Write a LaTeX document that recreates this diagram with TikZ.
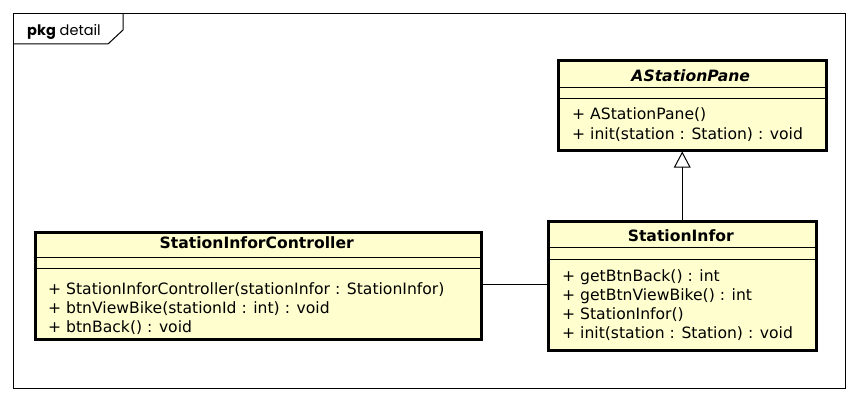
\documentclass[tikz,border=0pt]{standalone}
\usepackage{fontspec}
\setmainfont{DejaVu Sans}
\newfontfamily\pkgfont{Poppins}
\usetikzlibrary{arrows.meta}
\definecolor{classfill}{HTML}{FEFECE}
\begin{document}
\begin{tikzpicture}[x=1pt,y=-1pt,
  classbox/.style={draw=black, line width=3pt, fill=classfill},
  sepline/.style={draw=black, line width=1pt},
  member/.style={anchor=base west, inner sep=0pt, font=\fontsize{15.6}{19}\selectfont},
  ctitle/.style={anchor=base, inner sep=0pt, font=\fontsize{15.6}{19}\selectfont\bfseries},
  conn/.style={draw=black, line width=1pt},
  ]
\useasboundingbox (0,0) rectangle (858,401);
% package frame
\draw[line width=1pt] (13.5,13.5) rectangle (845,388);
\draw[line width=1pt] (13.5,44) -- (108,44) -- (123,30) -- (123,13.5);
\node[anchor=base west, inner sep=0pt, font=\pkgfont\fontsize{14.5}{17}\selectfont] (pkg) at (27,36) {\textbf{pkg} detail};

% AStationPane
\node[classbox, anchor=north west, minimum width=268.5pt, minimum height=89pt, inner sep=0pt] (asp) at (556.5,59.5) {};
\draw[sepline] (asp.west |- 0,87.3) -- (asp.east |- 0,87.3);
\draw[sepline] (asp.west |- 0,98.3) -- (asp.east |- 0,98.3);
\node[ctitle] (aspt) at (690.75,82) {\itshape AStationPane};
\node[member] (asp1) at (572,120) {+ AStationPane()};
\node[member] (asp2) at (572,139) {+ init(station : Station) : void};

% StationInfor
\node[classbox, anchor=north west, minimum width=268.5pt, minimum height=129pt, inner sep=0pt] (si) at (546.5,219.5) {};
\draw[sepline] (si.west |- 0,247.7) -- (si.east |- 0,247.7);
\draw[sepline] (si.west |- 0,259) -- (si.east |- 0,259);
\node[ctitle] (sit) at (680.75,241) {StationInfor};
\node[member] (si1) at (562,281) {+ getBtnBack() : int};
\node[member] (si2) at (562,300) {+ getBtnViewBike() : int};
\node[member] (si3) at (562,319) {+ StationInfor()};
\node[member] (si4) at (562,338) {+ init(station : Station) : void};

% StationInforController
\node[classbox, anchor=north west, minimum width=446.5pt, minimum height=107.5pt, inner sep=0pt] (sic) at (33.5,230.5) {};
\draw[sepline] (sic.west |- 0,257.7) -- (sic.east |- 0,257.7);
\draw[sepline] (sic.west |- 0,268.3) -- (sic.east |- 0,268.3);
\node[ctitle] (sict) at (256.75,248) {StationInforController};
\node[member] (sic1) at (48,294) {+ StationInforController(stationInfor : StationInfor)};
\node[member] (sic2) at (48,313) {+ btnViewBike(stationId : int) : void};
\node[member] (sic3) at (48,332) {+ btnBack() : void};

% connectors
\coordinate (sicr) at (sic.east |- 0,284);
\coordinate (sil) at (si.west |- 0,284);
\draw[conn] (sicr) -- (sil);
\draw[conn, -{Triangle[open, width=16.7pt, length=16pt, line width=1pt]}] (si.north) -- (si.north |- asp.south);
\end{tikzpicture}
\end{document}
